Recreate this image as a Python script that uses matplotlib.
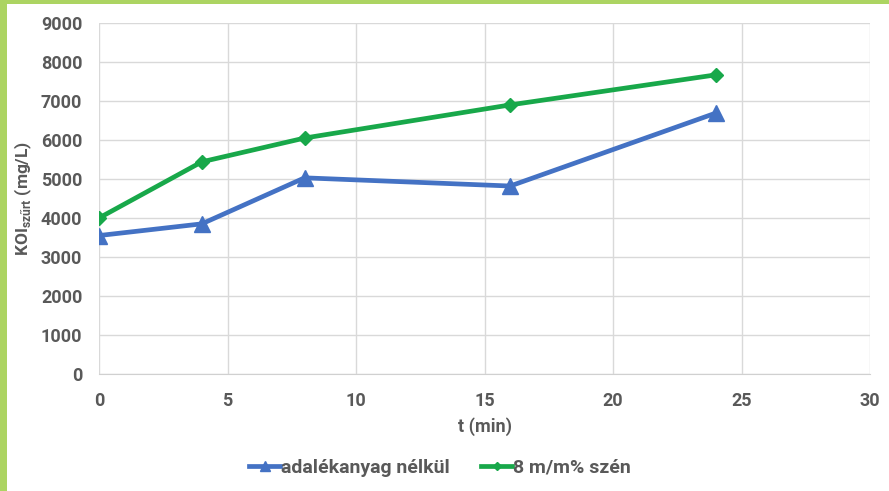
import matplotlib.pyplot as plt
import matplotlib.patches as mpatches

plt.rcParams['font.family'] = ['Roboto', 'DejaVu Sans']

t = [0, 4, 8, 16, 24]
no_additive = [3550, 3850, 5030, 4820, 6690]
carbon_8 = [4000, 5440, 6050, 6900, 7670]
series_labels = ["adalékanyag nélkül", "8 m/m% szén"]
x_ticks = [0, 5, 10, 15, 20, 25, 30]
y_ticks = list(range(0, 10000, 1000))

fig = plt.figure(figsize=(8.89, 4.91), dpi=100)
fig.patch.set_facecolor('#acd462')
# white slide area
fig.add_artist(mpatches.Rectangle((7 / 889, 0), 1, 1 - 4 / 491, transform=fig.transFigure,
                                  facecolor='white', edgecolor='none', zorder=0))

ax = fig.add_axes([99 / 889, 1 - 374 / 491, 771 / 889, 351 / 491])
ax.set_facecolor('white')
ax.plot(t, no_additive, '-^', color='#4472c4', lw=3.4, ms=11, label=series_labels[0])
ax.plot(t, carbon_8, '-D', color='#18a84a', lw=3.4, ms=7, label=series_labels[1])

ax.set_xlim(0, 30)
ax.set_ylim(0, 9000)
ax.set_xticks(x_ticks)
ax.set_yticks(y_ticks)
ax.grid(True, color='#d9d9d9', lw=1)
ax.set_axisbelow(True)
for s in ['top', 'right', 'left']:
    ax.spines[s].set_visible(False)
ax.spines['bottom'].set_color('#d0d0d0')
ax.tick_params(axis='y', length=0, labelsize=13, labelcolor='#595959', pad=12)
ax.tick_params(axis='x', length=0, labelsize=13, labelcolor='#595959', pad=13)
for lab in ax.get_xticklabels() + ax.get_yticklabels():
    lab.set_fontweight('bold')

ax.set_xlabel('t (min)', fontsize=13, fontweight='bold', color='#595959', labelpad=5)
ax.set_ylabel(r'KOI$_{\mathregular{szűrt}}$ (mg/L)', fontsize=12.5, fontweight='bold',
              color='#595959', labelpad=5)

leg = fig.legend(loc='center', bbox_to_anchor=(440 / 889, 1 - 468 / 491), ncol=2,
                 frameon=False, fontsize=14, handlelength=1.6, handletextpad=0.05,
                 columnspacing=1.6, markerscale=0.6)
for txt in leg.get_texts():
    txt.set_color('#595959')
    txt.set_fontweight('bold')

fig.savefig('out.png', dpi=100, facecolor=fig.get_facecolor())
